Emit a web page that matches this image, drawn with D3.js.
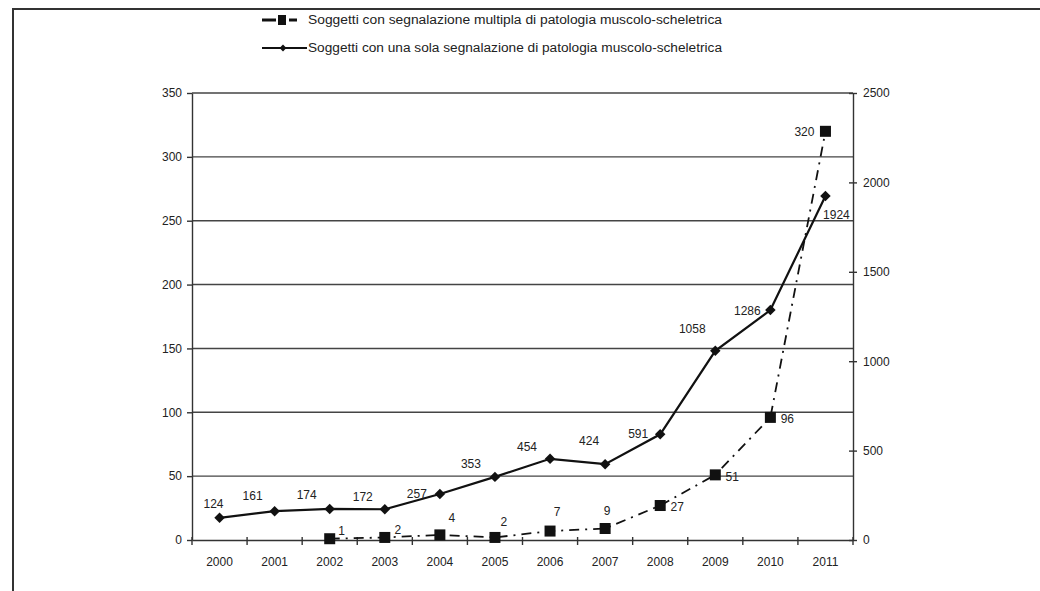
<!DOCTYPE html>
<html><head><meta charset="utf-8">
<script src="https://cdn.jsdelivr.net/npm/d3@7"></script>
<style>body{margin:0;background:#fff}svg{display:block}text{font-family:"Liberation Sans",Arial,sans-serif;fill:#222}</style>
</head><body><svg id="c" width="1040" height="591"></svg>
<script>
const years = ["2000","2001","2002","2003","2004","2005","2006","2007","2008","2009","2010","2011"];
const singleValues = [124,161,174,172,257,353,454,424,591,1058,1286,1924];
const multipleValues = [null,null,1,2,4,2,7,9,27,51,96,320];
const leftTicks = [0,50,100,150,200,250,300,350];
const rightTicks = [0,500,1000,1500,2000,2500];
const seriesNames = ["Soggetti con segnalazione multipla di patologia muscolo-scheletrica","Soggetti con una sola segnalazione di patologia muscolo-scheletrica"];

const svg = d3.select("#c");
const L=192, R=853, T=93, B=540;
const x = d3.scaleBand().domain(years).range([L,R]);
const yL = d3.scaleLinear().domain([0,350]).range([B,T]);
const yR = d3.scaleLinear().domain([0,2500]).range([B,T]);
const cx = d => x(d)+x.bandwidth()/2;

// outer frame
svg.append("path").attr("d","M13,591V9H1040").attr("fill","none").attr("stroke","#333").attr("stroke-width",2);

// gridlines
svg.append("g").selectAll("line").data(leftTicks.filter(d=>d>0)).join("line")
  .attr("x1",L).attr("x2",R).attr("y1",d=>yL(d)).attr("y2",d=>yL(d))
  .attr("stroke","#444").attr("stroke-width",1.4);

// axes
const fs = "12px";
const gl = svg.append("g").attr("transform",`translate(${L},0)`).call(d3.axisLeft(yL).tickValues(leftTicks).tickSize(5).tickPadding(5).tickSizeOuter(0));
const gr = svg.append("g").attr("transform",`translate(${R},0)`).call(d3.axisRight(yR).tickValues(rightTicks).tickFormat(d3.format("d")).tickSize(4).tickPadding(6).tickSizeOuter(0));
gr.selectAll(".tick line").attr("x1",-4);
const xAxis = d3.axisBottom(x).tickSize(0).tickPadding(17).tickSizeOuter(0);
const gx = svg.append("g").attr("transform",`translate(0,${B})`).call(xAxis);
// category separator ticks
svg.append("g").selectAll("line").data(years.concat(["end"])).join("line")
  .attr("x1",d=>d==="end"?R:x(d)).attr("x2",d=>d==="end"?R:x(d)).attr("y1",B-3).attr("y2",B+5)
  .attr("stroke","#333").attr("stroke-width",1.4);
[gl,gr,gx].forEach(g=>{
  g.selectAll(".domain").attr("stroke","#333").attr("stroke-width",1.4);
  g.selectAll(".tick line").attr("stroke","#333").attr("stroke-width",1.4);
  g.selectAll("text").style("font-size",fs).attr("fill","#222").style("font-family","Liberation Sans, Arial, sans-serif");
});

// single series (right axis)
const singleData = years.map((y,i)=>({y, v:singleValues[i]}));
svg.append("path").datum(singleData)
  .attr("d", d3.line().x(d=>cx(d.y)).y(d=>yR(d.v)))
  .attr("fill","none").attr("stroke","#111").attr("stroke-width",2.2);
svg.append("g").selectAll("path").data(singleData).join("path")
  .attr("transform",d=>`translate(${cx(d.y)},${yR(d.v)})`)
  .attr("d",d3.symbol(d3.symbolDiamond2,70)).attr("fill","#111");

// multiple series (left axis)
const multData = years.map((y,i)=>({y, v:multipleValues[i]})).filter(d=>d.v!==null);
svg.append("path").datum(multData)
  .attr("d", d3.line().x(d=>cx(d.y)).y(d=>yL(d.v)))
  .attr("fill","none").attr("stroke","#111").attr("stroke-width",1.8).attr("stroke-dasharray","10,6,2,6");
svg.append("g").selectAll("rect").data(multData).join("rect")
  .attr("x",d=>cx(d.y)-5.5).attr("y",d=>yL(d.v)-5.5).attr("width",11).attr("height",11).attr("fill","#111");

// labels (offsets relative to each point, baseline)
const singleOff = [[-6,-10],[-22,-11],[-23,-10],[-22,-8],[-23,4],[-24,-9],[-23,-8],[-16,-19],[-22,4],[-23,-18],[-23,5],[11,23]];
svg.append("g").selectAll("text").data(singleData).join("text")
  .attr("x",(d,i)=>cx(d.y)+singleOff[i][0]).attr("y",(d,i)=>yR(d.v)+singleOff[i][1])
  .attr("text-anchor","middle").style("font-size","12px").text(d=>d.v);
const multOff = {"2002":[12,-4],"2003":[13,-3],"2004":[12,-13],"2005":[9,-11],"2006":[7,-15],"2007":[2,-14],"2008":[17,5],"2009":[17,6],"2010":[17,6],"2011":[-21,5]};
svg.append("g").selectAll("text").data(multData).join("text")
  .attr("x",d=>cx(d.y)+multOff[d.y][0]).attr("y",d=>yL(d.v)+multOff[d.y][1])
  .attr("text-anchor","middle").style("font-size","12px").text(d=>d.v);

// legend
const lg = svg.append("g");
[0,1].forEach(i=>{
  const yy = 20 + i*28;
  if(i===0){
    lg.append("line").attr("x1",262).attr("x2",276).attr("y1",yy).attr("y2",yy).attr("stroke","#111").attr("stroke-width",3);
    lg.append("line").attr("x1",289).attr("x2",297).attr("y1",yy).attr("y2",yy).attr("stroke","#111").attr("stroke-width",3);
    lg.append("rect").attr("x",278).attr("y",yy-5).attr("width",8).attr("height",10).attr("fill","#111");
  } else {
    lg.append("line").attr("x1",262).attr("x2",307).attr("y1",yy).attr("y2",yy).attr("stroke","#111").attr("stroke-width",1.8);
    lg.append("path").attr("transform",`translate(283,${yy})`).attr("d",d3.symbol(d3.symbolDiamond2,30)).attr("fill","#111");
  }
  lg.append("text").attr("x",308).attr("y",yy+4).style("font-size","12px").attr("textLength",414).attr("lengthAdjust","spacingAndGlyphs").text(seriesNames[i]);
});
</script></body></html>
